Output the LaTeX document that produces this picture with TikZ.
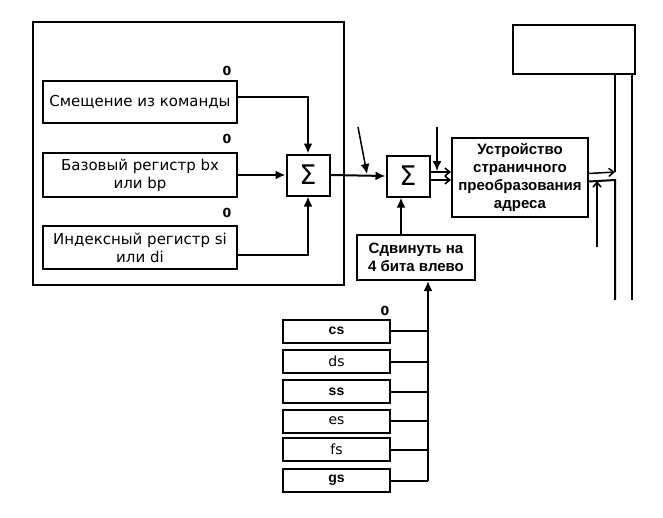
\documentclass[tikz,border=0pt]{standalone}
\usepackage{fontspec}
\setmainfont{DejaVu Sans}
\newfontfamily\arialfont{Liberation Sans}
\usetikzlibrary{arrows.meta, calc}

\begin{document}
\begin{tikzpicture}[x=1pt, y=-1pt, >={Latex[length=10pt,width=9pt]}, line width=2pt,
    blk/.style={draw, rectangle, inner sep=0pt, align=center, font=\fontsize{15}{18}\selectfont},
    sumbox/.style={draw, rectangle, minimum width=43pt, minimum height=41pt, inner sep=0pt,
      font=\fontsize{27}{27}\selectfont},
    segbox/.style={draw, rectangle, minimum width=107pt, minimum height=23pt, inner sep=0pt,
      font=\fontsize{14}{14}\selectfont},
    segbold/.style={segbox, font=\arialfont\bfseries\fontsize{14}{14}\selectfont},
    zero/.style={font=\bfseries\fontsize{12.5}{12.5}\selectfont},
    barb/.style={-{Straight Barb[length=5pt,width=8pt]}, line width=1.5pt}]
  \useasboundingbox (0,0) rectangle (663,517);

  % outer frame of the address part
  \draw (33,22) rectangle (344,285);

  % address components
  \node[blk, minimum width=194pt, minimum height=42pt] (disp) at (140,102) {Смещение из команды};
  \node[blk, minimum width=194pt, minimum height=44pt] (base) at (140,175) {Базовый регистр bx\\или bp};
  \node[blk, minimum width=194pt, minimum height=43pt] (index) at (140,247.5) {Индексный регистр si\\или di};
  \node[zero] (z1) at (227,71) {0};
  \node[zero] (z2) at (227,139) {0};
  \node[zero] (z3) at (227,213) {0};

  % adders
  \node[sumbox] (s1) at (308,175) {Σ};
  \node[sumbox] (s2) at (408,176) {Σ};

  \draw[->] ([yshift=5pt]disp.east) -| (s1.north);
  \draw[->] (base.east) -- (s1.west);
  \draw[->] ([yshift=-7pt]index.east) -| (s1.south);
  \draw[->] (s1.east) -- (s2.west);

  % stray input arrows
  \coordinate (d0) at (358,127);
  \coordinate (d1) at (367,174);
  \draw[->, line width=1.5pt] (d0) -- (d1);
  \coordinate (v0) at (437,127);
  \coordinate (v1) at (437,171);
  \draw[->, line width=1.5pt] (v0) -- (v1);

  % paging unit
  \node[blk, font=\arialfont\bfseries\fontsize{15}{18}\selectfont, minimum width=136pt, minimum height=79pt]
    (page) at (520,177.5) {Устройство\\страничного\\преобразования\\адреса};
  \draw[barb] ([yshift=4pt]s2.east) -- ([yshift=4pt]s2.east -| page.west);
  \draw[barb] ([yshift=-4pt]s2.east) -- ([yshift=-4pt]s2.east -| page.west);

  % memory column
  \node[draw, rectangle, minimum width=122pt, minimum height=49pt, inner sep=0pt] (mem) at (574,49.5) {};
  \coordinate (bus0) at (615,172);
  \coordinate (bus1) at (615,180);
  \coordinate (bus2) at (615,300);
  \coordinate (rl0) at (632,74);
  \coordinate (rl1) at (632,300);
  \draw[barb] ([yshift=4pt]page.east) -- (bus0);
  \draw (bus0) -- (bus0 |- mem.south);
  \draw (bus2) -- (bus1) -- ([yshift=-4pt]page.east);
  \draw (rl0) -- (rl1);
  \coordinate (up0) at (597,247);
  \coordinate (up1) at (597,181);
  \draw[barb] (up0) -- (up1);

  % segment shift
  \node[blk, font=\arialfont\bfseries\fontsize{15}{18}\selectfont, minimum width=118pt, minimum height=45pt]
    (shift) at (416,257.5) {Сдвинуть на\\4 бита влево};
  \draw[->] (shift.north -| 401,0) -- (s2.south -| 401,0);

  % segment registers
  \node[segbold] (cs) at (336.5,331) {cs};
  \node[segbox] (ds) at (336.5,361.5) {ds};
  \node[segbold] (ss) at (336.5,391.5) {ss};
  \node[segbox] (es) at (336.5,421) {es};
  \node[segbox] (fs) at (336.5,449.5) {fs};
  \node[segbold] (gs) at (336.5,480.5) {gs};
  \node[zero] (z4) at (385,311) {0};
  \foreach \r in {cs,ds,ss,es,fs,gs}
    \draw (\r.east) -- (\r.east -| 428,0);
  \draw[->] (gs.east -| 428,0) -- (shift.south -| 428,0);
\end{tikzpicture}
\end{document}
